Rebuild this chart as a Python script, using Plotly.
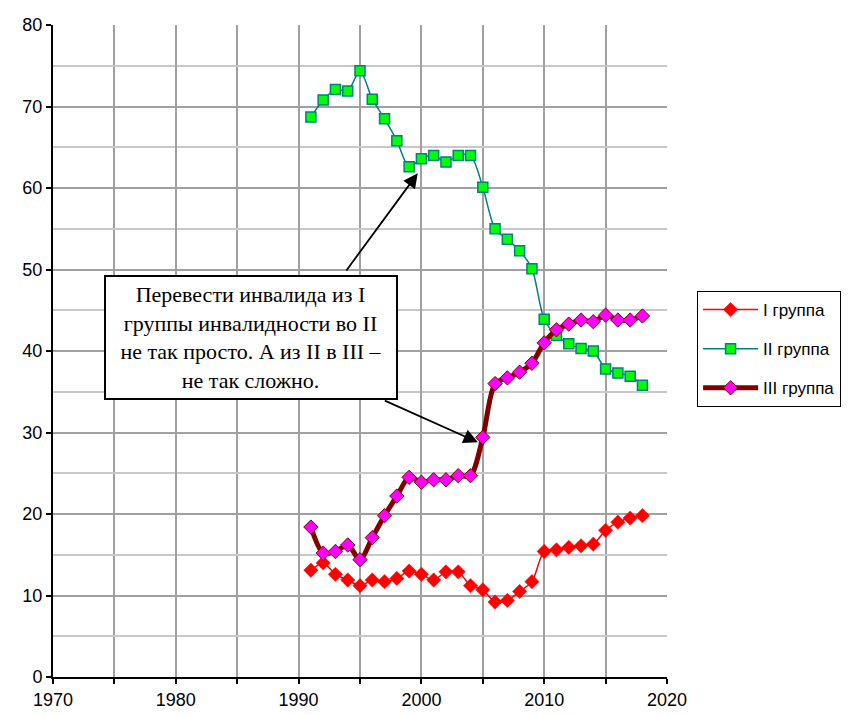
import plotly.graph_objects as go

years = list(range(1991, 2019))
group1 = [13.1, 14.0, 12.6, 11.9, 11.2, 11.9, 11.7, 12.1, 13.0, 12.6, 11.9, 12.9, 12.9, 11.2,
          10.7, 9.2, 9.4, 10.5, 11.7, 15.4, 15.6, 15.9, 16.1, 16.3, 18.0, 19.0, 19.5, 19.8]
group2 = [68.7, 70.8, 72.1, 71.9, 74.4, 70.9, 68.5, 65.8, 62.6, 63.6, 64.0, 63.2, 64.0, 64.0,
          60.1, 55.0, 53.7, 52.3, 50.1, 43.9, 41.9, 40.9, 40.3, 40.0, 37.8, 37.3, 36.9, 35.8]
group3 = [18.4, 15.2, 15.4, 16.2, 14.4, 17.1, 19.8, 22.2, 24.5, 23.9, 24.2, 24.2, 24.7, 24.7,
          29.4, 36.0, 36.7, 37.4, 38.5, 41.0, 42.6, 43.3, 43.8, 43.6, 44.4, 43.8, 43.8, 44.3]
names = ["I группа", "II группа", "III группа"]

note = ("Перевести инвалида из I<br>группы инвалидности во II<br>"
        "не так просто. А из II в III –<br>не так сложно.")

fig = go.Figure()
fig.add_trace(go.Scatter(x=years, y=group1, name=names[0], mode="lines+markers",
                         line=dict(color="#ff0000", width=1.5, shape="spline", smoothing=0.8),
                         marker=dict(symbol="diamond", size=11, color="#ff0000",
                                     line=dict(color="#ff0000", width=0.5)),
                         legendgroup="a"))
fig.add_trace(go.Scatter(x=years, y=group2, name=names[1], mode="lines+markers",
                         line=dict(color="#008080", width=1.5, shape="spline", smoothing=0.8),
                         marker=dict(symbol="square", size=10, color="#00ff00",
                                     line=dict(color="#008080", width=1.5)),
                         legendgroup="b"))
fig.add_trace(go.Scatter(x=years, y=group3, name=names[2], mode="lines+markers",
                         line=dict(color="#800000", width=5, shape="spline", smoothing=0.8),
                         marker=dict(symbol="diamond", size=11, color="#ff00ff",
                                     line=dict(color="#800000", width=1)),
                         legendgroup="c"))

fig.add_annotation(x=1986.1, y=41.7, xref="x", yref="y", text=note, showarrow=False,
                   font=dict(family="Liberation Serif", size=22, color="black"),
                   align="center", bordercolor="black", borderwidth=2, borderpad=5,
                   bgcolor="white", width=280, xanchor="center", yanchor="middle")
fig.add_annotation(x=1999.7, y=61.8, ax=1993.8, ay=49.7, xref="x", yref="y",
                   axref="x", ayref="y", text="", showarrow=True, arrowhead=2,
                   arrowsize=1.6, arrowwidth=1.8, arrowcolor="black")
fig.add_annotation(x=2004.6, y=28.8, ax=1996.9, ay=34.0, xref="x", yref="y",
                   axref="x", ayref="y", text="", showarrow=True, arrowhead=2,
                   arrowsize=1.6, arrowwidth=1.8, arrowcolor="black")

fig.update_xaxes(range=[1970, 2020], dtick=10, tick0=1970, showline=True, linecolor="black",
                 linewidth=2, ticks="outside", ticklen=5, tickwidth=2, tickcolor="black",
                 showgrid=True, gridcolor="#a0a0a0", gridwidth=2, zeroline=False,
                 automargin=False,
                 minor=dict(dtick=5, tick0=1970, showgrid=True, gridcolor="#a0a0a0",
                            gridwidth=2, ticks="outside", ticklen=5, tickcolor="black"),
                 tickfont=dict(family="Liberation Sans", size=18, color="black"))
fig.update_yaxes(range=[0, 80], dtick=10, showline=True, linecolor="black", linewidth=2,
                 ticks="outside", ticklen=5, tickwidth=2, tickcolor="black",
                 showgrid=True, gridcolor="#a0a0a0", gridwidth=2, zeroline=False,
                 automargin=False,
                 minor=dict(dtick=5, showgrid=True, gridcolor="#c8c8c8", gridwidth=2),
                 tickfont=dict(family="Liberation Sans", size=18, color="black"))

fig.update_layout(width=850, height=707, plot_bgcolor="white", paper_bgcolor="white",
                  margin=dict(l=45, r=191, t=17, b=38, autoexpand=False),
                  legend=dict(x=1.049, y=0.503, xanchor="left", yanchor="middle",
                              bordercolor="black", borderwidth=1, bgcolor="white",
                              font=dict(family="Liberation Sans", size=17, color="black"),
                              tracegroupgap=14, itemwidth=55))
fig.write_html("out.html")
